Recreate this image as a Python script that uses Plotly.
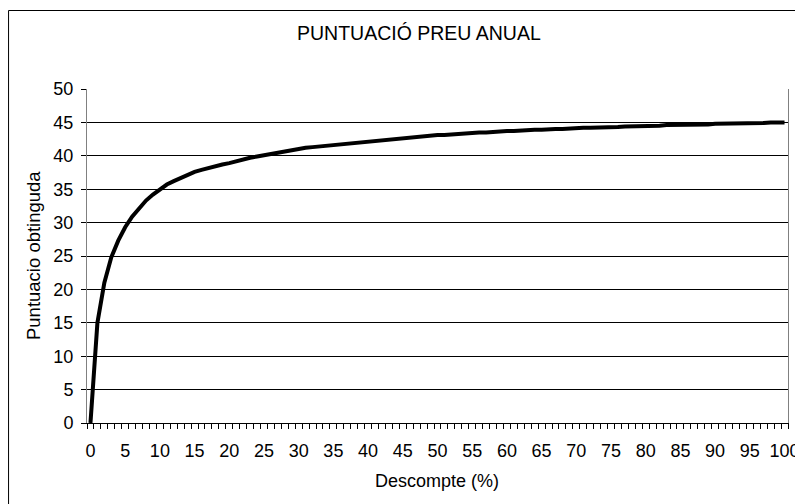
import plotly.graph_objects as go

descompte = list(range(0, 101))
puntuacio = [
    0.0, 15.0, 21.0, 24.8, 27.3, 29.3, 30.9, 32.2, 33.3, 34.2,
    35.0, 35.7, 36.2, 36.7, 37.2, 37.6, 37.9, 38.2, 38.5, 38.7,
    38.9, 39.2, 39.5, 39.7, 39.9, 40.1, 40.3, 40.5, 40.7, 40.9,
    41.0, 41.2, 41.3, 41.4, 41.5, 41.7, 41.8, 41.9, 42.0, 42.1,
    42.2, 42.3, 42.4, 42.5, 42.6, 42.7, 42.8, 42.9, 42.9, 43.0,
    43.1, 43.1, 43.2, 43.3, 43.3, 43.4, 43.5, 43.5, 43.6, 43.6,
    43.7, 43.7, 43.8, 43.8, 43.9, 43.9, 44.0, 44.0, 44.0, 44.1,
    44.1, 44.2, 44.2, 44.2, 44.3, 44.3, 44.3, 44.4, 44.4, 44.4,
    44.5, 44.5, 44.5, 44.6, 44.6, 44.6, 44.7, 44.7, 44.7, 44.7,
    44.8, 44.8, 44.8, 44.8, 44.9, 44.9, 44.9, 44.9, 45.0, 45.0,
    45.0,
]
x_tick_vals = list(range(0, 101, 5))
x_tick_text = [str(v) for v in x_tick_vals]
y_tick_vals = list(range(0, 51, 5))

title_text = "PUNTUACIÓ PREU ANUAL"
x_title = "Descompte (%)"
y_title = "Puntuacio obtinguda"

FONT = "Liberation Sans, Arial, sans-serif"

fig = go.Figure()
fig.add_trace(go.Scatter(
    x=descompte, y=puntuacio, mode="lines",
    line=dict(color="black", width=4),
    hoverinfo="x+y", showlegend=False,
))

# page body adds an 8px offset; compensate so the screenshot matches
OFF = 8
W, H = 803, 504
pw, ph = 701.5, 334
L, T = 87 - OFF, 89 - OFF
R = W - L - pw
B = H - T - ph
bottom_px = 423 - OFF  # pixel y of data y=0 in figure coords


def px_x(x):
    return (x - OFF - L) / pw


def px_y(y):
    return (bottom_px - (y - OFF)) / ph


fig.update_layout(
    width=W, height=H,
    margin=dict(l=L, r=R, t=T, b=B, pad=0, autoexpand=False),
    paper_bgcolor="white", plot_bgcolor="white",
    font=dict(family=FONT, size=18, color="black"),
    showlegend=False,
    xaxis=dict(
        range=[-0.5, 100.5], tickmode="array", tickvals=x_tick_vals, ticktext=x_tick_text,
        ticks="outside", ticklen=5, tickcolor="rgba(0,0,0,0)", ticklabelstandoff=6,
        showgrid=False, zeroline=False, showline=True, linecolor="black", linewidth=1,
        minor=dict(ticks="outside", tick0=-0.5, dtick=1, ticklen=5, tickcolor="black", tickwidth=1, showgrid=False),
        tickfont=dict(size=18), fixedrange=True, automargin=False,
    ),
    yaxis=dict(
        range=[0, 50], tickmode="array", tickvals=y_tick_vals,
        ticks="outside", ticklen=5, tickcolor="black", ticklabelstandoff=4,
        showgrid=True, gridcolor="black", gridwidth=1, zeroline=False,
        showline=True, linecolor="#808080", linewidth=1, mirror=True,
        tickfont=dict(size=18), fixedrange=True, automargin=False,
    ),
    shapes=[dict(
        type="rect", xref="paper", yref="paper",
        x0=px_x(8.5), x1=px_x(830),
        y0=px_y(540), y1=px_y(10.5),
        line=dict(color="black", width=1), fillcolor="rgba(0,0,0,0)", layer="below",
    )],
    annotations=[
        dict(text=title_text, xref="paper", yref="paper",
             x=px_x(419), y=px_y(33), xanchor="center", yanchor="middle",
             showarrow=False, font=dict(size=19.5)),
        dict(text=x_title, xref="paper", yref="paper",
             x=px_x(437), y=px_y(481), xanchor="center", yanchor="middle",
             showarrow=False, font=dict(size=18)),
        dict(text=y_title, xref="paper", yref="paper", textangle=-90,
             x=px_x(33), y=px_y(256), xanchor="center", yanchor="middle",
             showarrow=False, font=dict(size=18.5)),
    ],
)

fig.write_html("out.html")
